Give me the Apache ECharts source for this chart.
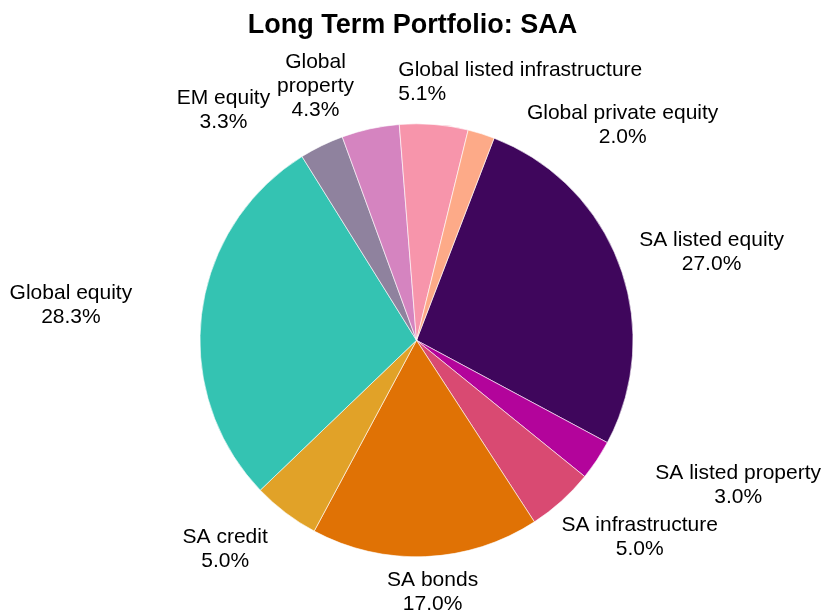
<!DOCTYPE html>
<html>
<head>
<meta charset="utf-8">
<script src="https://cdn.jsdelivr.net/npm/echarts@6/dist/echarts.min.js"></script>
<style>
  html, body { margin: 0; padding: 0; background: #fff; }
  #chart { width: 825px; height: 614px; }
</style>
</head>
<body>
<div id="chart"></div>
<script>
// slice data, clockwise from "SA listed equity"
const categories = [
  'SA listed equity', 'SA listed property', 'SA infrastructure', 'SA bonds', 'SA credit',
  'Global equity', 'EM equity', 'Global\nproperty', 'Global listed infrastructure', 'Global private equity'
];
const weights = [27.0, 3.0, 5.0, 17.0, 5.0, 28.3, 3.3, 4.3, 5.1, 2.0];
const sliceColors = [
  '#3f065c', '#b3049b', '#d94a72', '#e07205', '#e1a228',
  '#34c3b2', '#8f829e', '#d584c0', '#f795ab', '#fdaa88'
];

// label placement tweaks: [labelLine length, length2, line align]
const labelTweaks = {
  'SA listed equity': [36, -14, 'center'],
  'SA listed property': [45, 21, 'center'],
  'SA infrastructure': [48, -32, 'center'],
  'SA bonds': [36, -40, 'center'],
  'SA credit': [46, -10, 'center'],
  'Global equity': [66, 4, 'center'],
  'EM equity': [40, 34, 'center'],
  'Global\nproperty': [44, 7, 'center'],
  'Global listed infrastructure': [42, -39, 'left'],
  'Global private equity': [9, 43, 'center']
};

let chart = echarts.init(document.getElementById('chart'));

let pieData = categories.map(function (name, i) {
  let tw = labelTweaks[name];
  let key = tw[2] === 'left' ? 'lft' : 'mid';
  return {
    name: name,
    value: weights[i],
    itemStyle: { color: sliceColors[i] },
    label: {
      formatter: function (p) {
        return p.name.split('\n').map(function (s) { return '{' + key + '|' + s + '}'; }).join('\n')
          + '\n{' + key + '|' + p.value.toFixed(1) + '%}';
      }
    },
    labelLine: { show: false, length: tw[0], length2: tw[1] }
  };
});

let textFont = 'Liberation Sans, Arial, sans-serif';

let option = {
  backgroundColor: '#fff',
  animation: false,
  title: {
    text: 'Long Term Portfolio: SAA',
    left: 'center',
    top: 7,
    textStyle: {
      fontFamily: textFont,
      fontSize: 27,
      fontWeight: 'bold',
      color: '#000'
    }
  },
  series: [
    {
      type: 'pie',
      center: [416.5, 340.3],
      radius: 216.5,
      startAngle: 69,
      clockwise: true,
      avoidLabelOverlap: false,
      labelLayout: { hideOverlap: false },
      itemStyle: { borderColor: '#ffffff', borderWidth: 0.6 },
      emphasis: { disabled: true },
      label: {
        show: true,
        position: 'outside',
        distanceToLabelLine: 0,
        overflow: 'none',
        color: '#000',
        fontFamily: textFont,
        fontSize: 21,
        lineHeight: 24,
        rich: {
          mid: { align: 'center', fontSize: 21, lineHeight: 24, color: '#000', fontFamily: textFont },
          lft: { align: 'left', fontSize: 21, lineHeight: 24, color: '#000', fontFamily: textFont }
        }
      },
      data: pieData
    }
  ]
};

if (option && typeof option === 'object') {
  chart.setOption(option, true);
}
</script>
</body>
</html>
